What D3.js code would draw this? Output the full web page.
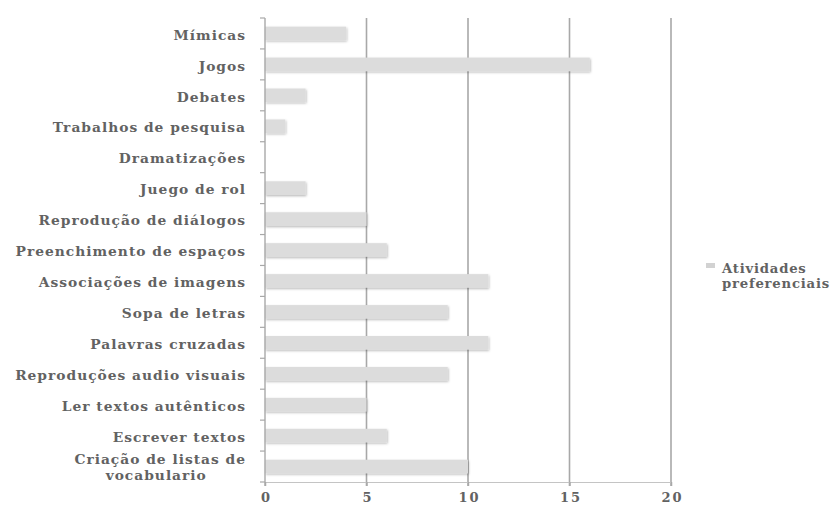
<!DOCTYPE html>
<html>
<head>
<meta charset="utf-8">
<script src="https://cdn.jsdelivr.net/npm/d3@7"></script>
<style>
  body { margin: 0; background: #fff; }
  svg text { font-family: "DejaVu Serif", "Liberation Serif", serif; fill: #626262; font-weight: bold; }
</style>
</head>
<body>
<svg id="chart" width="836" height="505"></svg>
<script>
// Preferred classroom activities (number of answers)
const categories = [
  "Mímicas", "Jogos", "Debates", "Trabalhos de pesquisa", "Dramatizações",
  "Juego de rol", "Reprodução de diálogos", "Preenchimento de espaços",
  "Associações de imagens", "Sopa de letras", "Palavras cruzadas",
  "Reproduções audio visuais", "Ler textos autênticos", "Escrever textos",
  "Criação de listas de vocabulario"
];
const values = [4, 16, 2, 1, 0, 2, 5, 6, 11, 9, 11, 9, 5, 6, 10];
const xTicks = [0, 5, 10, 15, 20];
const seriesName = ["Atividades", "preferenciais"];

const svg = d3.select("#chart");
const margin = { top: 18, left: 265, right: 165, bottom: 23 };
const width = 836 - margin.left - margin.right;
const height = 505 - margin.top - margin.bottom;

const x = d3.scaleLinear().domain([0, 20]).range([0, width]);
const y = d3.scaleBand().domain(categories).range([0, height]).paddingInner(0.56).paddingOuter(0.28);

const labelStyle = sel => sel.style("font-size", "13.8px").style("letter-spacing", "1px");

const defs = svg.append("defs");
const f = defs.append("filter").attr("id", "shadow").attr("x", "-10%").attr("y", "-30%").attr("width", "130%").attr("height", "180%");
f.append("feDropShadow").attr("dx", 0.8).attr("dy", 1.2).attr("stdDeviation", 0.9)
  .attr("flood-color", "#000").attr("flood-opacity", 0.28);

const g = svg.append("g").attr("transform", `translate(${margin.left},${margin.top})`);

// vertical gridlines
g.append("g").selectAll("line").data(xTicks.filter(d => d > 0)).join("line")
  .attr("x1", d => x(d)).attr("x2", d => x(d))
  .attr("y1", 0).attr("y2", height + 4)
  .attr("stroke", "#a8a8a8").attr("stroke-width", 1.6);

// bottom axis
const xAxis = g.append("g").attr("transform", `translate(0,${height})`)
  .call(d3.axisBottom(x).tickValues(xTicks).tickSize(4).tickPadding(9));
xAxis.select(".domain").attr("stroke", "#c4c4c4").attr("stroke-width", 1.2);
xAxis.selectAll(".tick line").attr("stroke", "#a8a8a8").attr("stroke-width", 1.4);
xAxis.selectAll("text").attr("fill", "#626262").attr("font-family", null).attr("font-size", null)
  .style("font-size", "13px").style("letter-spacing", "2px").attr("dx", "1px").attr("dy", "0.55em");

// bars
g.append("g").selectAll("rect").data(values).join("rect")
  .attr("x", x(0))
  .attr("y", (d, i) => y(categories[i]))
  .attr("width", d => x(d) - x(0))
  .attr("height", y.bandwidth())
  .attr("fill", "#dcdcdc")
  .attr("filter", "url(#shadow)");

// left axis with ticks between categories
const bounds = d3.range(categories.length + 1).map(i => i * height / categories.length);
const yAx = g.append("g");
yAx.append("line").attr("x1", 0).attr("x2", 0).attr("y1", 0).attr("y2", height + 4)
  .attr("stroke", "#a8a8a8").attr("stroke-width", 1.4);
yAx.selectAll("line.tk").data(bounds).join("line").attr("class", "tk")
  .attr("x1", -5).attr("x2", 0).attr("y1", d => d).attr("y2", d => d)
  .attr("stroke", "#a8a8a8").attr("stroke-width", 1.2);

// category labels
const labelX = -19;
const lab = g.append("g").selectAll("text").data(categories).join("text")
  .attr("x", labelX)
  .attr("y", d => y(d) + y.bandwidth() / 2)
  .attr("text-anchor", "end")
  .call(labelStyle);
lab.each(function(d) {
  const t = d3.select(this);
  if (d === "Criação de listas de vocabulario") {
    const first = t.append("tspan").attr("x", labelX).attr("dy", "-0.15em").text("Criação de listas de");
    const w = first.node().getComputedTextLength();
    const second = t.append("tspan").attr("dy", "1.15em").text("vocabulario");
    const w2 = second.node().getComputedTextLength();
    second.attr("x", labelX - (w - w2) / 2 - 4);
  } else {
    t.attr("dy", "0.45em").text(d);
  }
});

// legend
const lg = svg.append("g").attr("transform", "translate(706,263)");
lg.append("rect").attr("x", 0).attr("y", 0).attr("width", 9).attr("height", 5).attr("fill", "#d2d2d2");
lg.selectAll("text").data(seriesName).join("text")
  .attr("x", 16).attr("y", (d, i) => 10 + i * 15)
  .style("font-size", "13.2px").style("letter-spacing", "0.8px").text(d => d);
</script>
</body>
</html>
